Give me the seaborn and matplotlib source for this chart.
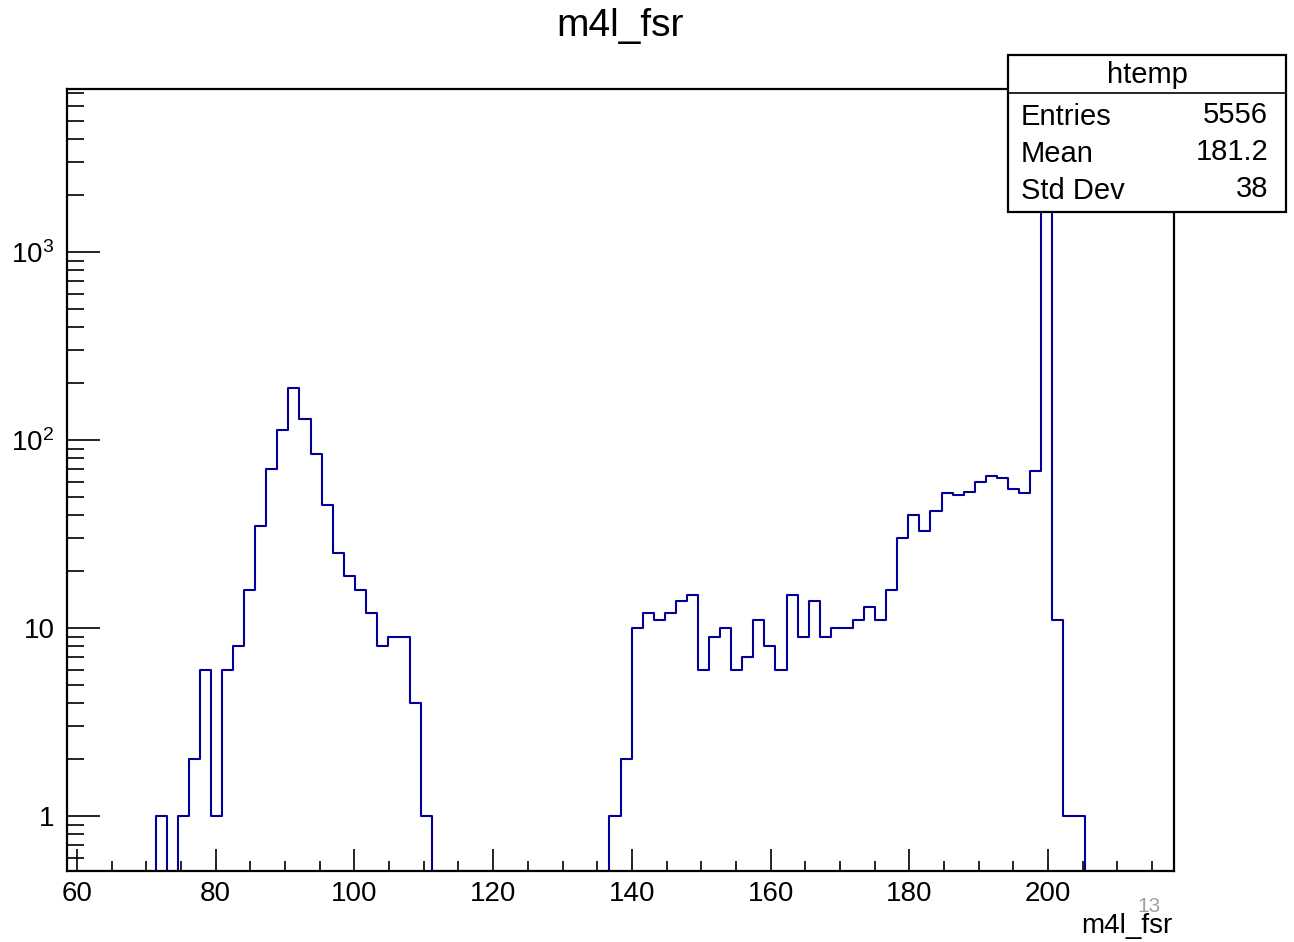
import numpy as np
import pandas as pd
import matplotlib
matplotlib.use("Agg")
import matplotlib.pyplot as plt
from matplotlib.patches import Rectangle
from matplotlib.lines import Line2D
from matplotlib.ticker import FixedLocator, MultipleLocator, LogLocator, FixedFormatter, NullFormatter
import seaborn as sns

# ---------------- data ----------------
x_min = 58.56
x_max = 218.16
n_bins = 100

counts_low = [1, 0, 1, 2, 6, 1, 6, 8, 16, 35, 70, 113, 188, 130, 84, 45, 25, 19, 16, 12, 8, 9, 9, 4, 1]   # bins 8..32
counts_high = [1, 2, 10, 12, 11, 12, 14, 15, 6, 9, 10, 6, 7, 11, 8, 6, 15, 9, 14, 9,
               10, 10, 11, 13, 11, 16, 30, 40, 33, 42, 52, 51, 53, 60, 64, 63, 55, 52, 68]  # bins 49..87
counts_peak = [3813, 11, 1, 1]  # bins 88..91

stat_labels = ["Entries", "Mean", "Std Dev"]
stat_values = ["5556", "181.2", "38"]
hist_name = "htemp"
title = "m4l_fsr"
xlabel = "m4l_fsr"
y_tick_vals = [1, 10, 100, 1000]
y_tick_labels = ["1", "10", "$10^{2}$", "$10^{3}$"]
x_tick_vals = [60, 80, 100, 120, 140, 160, 180, 200]

counts = np.array([0] * 8 + counts_low + [0] * 16 + counts_high + counts_peak + [0] * 8, dtype=float)
edges = np.linspace(x_min, x_max, n_bins + 1)
centers = 0.5 * (edges[:-1] + edges[1:])

y_min = 10 ** (-(871 - 816) / 188)
y_max = 10 ** ((816 - 89) / 188)
# ROOT draws empty bins on the lower frame edge in log scale
plot_w = np.where(counts > 0, counts, y_min)
df = pd.DataFrame({"m4l_fsr": centers, "w": plot_w})

# ---------------- style ----------------
sns.set_style("white")
plt.rcParams["font.family"] = ["Liberation Sans", "DejaVu Sans"]
plt.rcParams["mathtext.default"] = "regular"
plt.rcParams["text.color"] = "black"
plt.rcParams["xtick.color"] = "black"
plt.rcParams["ytick.color"] = "black"
plt.rcParams["xtick.labelcolor"] = "black"
plt.rcParams["ytick.labelcolor"] = "black"

W, H = 1294, 942
fig = plt.figure(figsize=(W / 100, H / 100), dpi=100)
ax = fig.add_axes([67 / W, 1 - 871 / H, (1174 - 67) / W, (871 - 89) / H])

sns.histplot(data=df, x="m4l_fsr", weights="w", bins=n_bins, binrange=(x_min, x_max),
             element="step", fill=False, color="#000099", linewidth=1.5, ax=ax)

ax.set_yscale("log")
ax.set_xlim(x_min, x_max)
ax.set_ylim(y_min, y_max)
ax.set_xlabel("")
ax.set_ylabel("")

for s in ax.spines.values():
    s.set_visible(True)
    s.set_linewidth(1.6)
    s.set_color("black")

ax.xaxis.set_major_locator(FixedLocator(x_tick_vals))
ax.xaxis.set_minor_locator(MultipleLocator(5))
ax.yaxis.set_major_locator(FixedLocator(y_tick_vals))
ax.yaxis.set_major_formatter(FixedFormatter(y_tick_labels))
ax.yaxis.set_minor_locator(LogLocator(base=10, subs=np.arange(2, 10)))
ax.yaxis.set_minor_formatter(NullFormatter())

ax.tick_params(axis="x", which="major", direction="in", length=16, width=1.2,
               labelsize=20, pad=7, top=False, bottom=True, colors="black")
ax.tick_params(axis="x", which="minor", direction="in", length=7.5, width=1.2, top=False, bottom=True,
               colors="black")
ax.tick_params(axis="y", which="major", direction="in", length=24, width=1.2,
               labelsize=20, pad=9, right=False, left=True, colors="black")
ax.tick_params(axis="y", which="minor", direction="in", length=12, width=1.2, right=False, left=True,
               colors="black")
ax.grid(False)

# title
fig.text(620 / W, 1 - 26 / H, title, ha="center", va="center", fontsize=28, color="black")

# x label and slide number
fig.text(1172 / W, 1 - 926 / H, xlabel, ha="right", va="center", fontsize=20, color="black")
fig.text(1149 / W, 1 - 907 / H, "13", ha="center", va="center", fontsize=15, color="#a0a0a0")

# stats box
bx0, by0, bx1, by1 = 1008, 55, 1286, 212
fig.patches.append(Rectangle((bx0 / W, 1 - by1 / H), (bx1 - bx0) / W, (by1 - by0) / H,
                             transform=fig.transFigure, facecolor="white", edgecolor="black",
                             linewidth=1.6, zorder=5))
fig.lines.append(Line2D([bx0 / W, bx1 / W], [1 - 93 / H, 1 - 93 / H], transform=fig.transFigure,
                        color="black", linewidth=1.2, zorder=6))
fig.text((bx0 + bx1) / 2 / W, 1 - 75 / H, hist_name, ha="center", va="center", fontsize=21,
         color="black", zorder=7)
row_y = [117, 154, 191]
for lab, val, yy in zip(stat_labels, stat_values, row_y):
    fig.text(1021 / W, 1 - yy / H, lab, ha="left", va="center", fontsize=21, color="black", zorder=7)
    fig.text(1268 / W, 1 - (yy - 2) / H, val, ha="right", va="center", fontsize=21, color="black", zorder=7)

fig.savefig("out.png", dpi=100)
